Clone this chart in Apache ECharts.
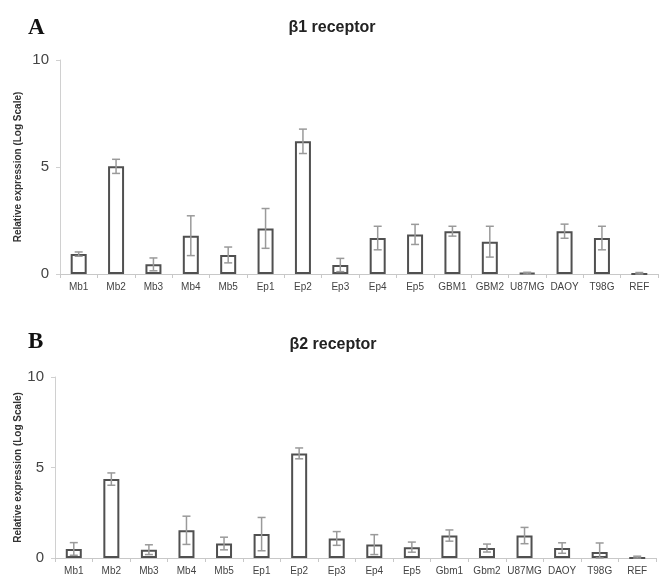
<!DOCTYPE html>
<html>
<head>
<meta charset="utf-8">
<script src="https://cdn.jsdelivr.net/npm/echarts@6/dist/echarts.min.js"></script>
<style>html,body{margin:0;padding:0;background:#fff;}#c{width:660px;height:576px;}</style>
</head>
<body>
<div id="c"></div>
<script>
const catsA = ['Mb1','Mb2','Mb3','Mb4','Mb5','Ep1','Ep2','Ep3','Ep4','Ep5','GBM1','GBM2','U87MG','DAOY','T98G','REF'];
const valsA = [0.93, 5.03, 0.45, 1.79, 0.89, 2.13, 6.2, 0.42, 1.68, 1.85, 2.0, 1.51, 0.04, 2.0, 1.68, 0];
const errA  = [0.1, 0.33, 0.3, 0.93, 0.37, 0.93, 0.57, 0.31, 0.55, 0.47, 0.23, 0.72, 0.04, 0.33, 0.55, 0.07];

const catsB = ['Mb1','Mb2','Mb3','Mb4','Mb5','Ep1','Ep2','Ep3','Ep4','Ep5','Gbm1','Gbm2','U87MG','DAOY','T98G','REF'];
const valsB = [0.5, 4.36, 0.46, 1.53, 0.8, 1.32, 5.78, 1.08, 0.74, 0.6, 1.24, 0.55, 1.24, 0.55, 0.33, 0];
const errB  = [0.35, 0.34, 0.27, 0.78, 0.35, 0.92, 0.3, 0.38, 0.55, 0.28, 0.31, 0.22, 0.45, 0.29, 0.5, 0.1];

const yTicks = [0, 5, 10];

function errData(vals, errs) {
  return vals.map((v, i) => [i, Math.max(0, v - errs[i]), v + errs[i]]);
}

function renderErr(params, api) {
  const x = api.value(0);
  const lo = api.coord([x, api.value(1)]);
  const hi = api.coord([x, api.value(2)]);
  const hw = 4;
  const style = { stroke: '#9a9a9a', lineWidth: 1.5, fill: null };
  return {
    type: 'group',
    children: [
      { type: 'line', shape: { x1: hi[0], y1: hi[1], x2: lo[0], y2: lo[1] }, style: style },
      { type: 'line', shape: { x1: hi[0] - hw, y1: hi[1], x2: hi[0] + hw, y2: hi[1] }, style: style },
      { type: 'line', shape: { x1: lo[0] - hw, y1: lo[1], x2: lo[0] + hw, y2: lo[1] }, style: style }
    ]
  };
}

const font = '"Liberation Sans", Arial, sans-serif';
const serif = '"Liberation Serif", "Times New Roman", serif';

function xAxis(cats, idx) {
  return {
    type: 'category', gridIndex: idx, data: cats,
    axisLine: { lineStyle: { color: '#c8c8c8', width: 1 } },
    axisTick: { show: true, length: 4, lineStyle: { color: '#c8c8c8' } },
    axisLabel: { color: '#444', fontSize: 10, fontFamily: font, margin: 8, interval: 0 }
  };
}
function yAxis(idx, gap) {
  return {
    type: 'value', gridIndex: idx, min: yTicks[0], max: yTicks[yTicks.length - 1], interval: yTicks[1] - yTicks[0],
    name: 'Relative expression (Log Scale)', nameLocation: 'middle', nameGap: gap, nameMoveOverlap: false,
    nameTextStyle: { color: '#333', fontSize: 10, fontWeight: 'bold', fontFamily: font },
    axisLine: { show: true, lineStyle: { color: '#d0d0d0', width: 1 } },
    axisTick: { show: true, length: 4, lineStyle: { color: '#d0d0d0' } },
    splitLine: { show: false },
    axisLabel: { color: '#444', fontSize: 15, fontFamily: font, margin: 11 }
  };
}

const chart = echarts.init(document.getElementById('c'));
chart.setOption({
  backgroundColor: '#fff',
  animation: false,
  title: [
    { text: 'A', left: 23, top: 12, textStyle: { fontFamily: serif, fontWeight: 'bold', fontSize: 23, color: '#111' } },
    { text: 'β1 receptor', left: 327, top: 15, textAlign: 'center', textStyle: { fontFamily: font, fontWeight: 'bold', fontSize: 16, color: '#222' } },
    { text: 'B', left: 23, top: 326, textStyle: { fontFamily: serif, fontWeight: 'bold', fontSize: 23, color: '#111' } },
    { text: 'β2 receptor', left: 328, top: 332, textAlign: 'center', textStyle: { fontFamily: font, fontWeight: 'bold', fontSize: 16, color: '#222' } }
  ],
  grid: [
    { left: 60, right: 2, top: 60, height: 214 },
    { left: 55, right: 4, top: 377, height: 182 }
  ],
  xAxis: [xAxis(catsA, 0), xAxis(catsB, 1)],
  yAxis: [yAxis(0, 37), yAxis(1, 32)],
  series: [
    { type: 'bar', xAxisIndex: 0, yAxisIndex: 0, data: valsA, barWidth: 16,
      itemStyle: { color: '#fff', borderColor: '#505050', borderWidth: 2 } },
    { type: 'custom', xAxisIndex: 0, yAxisIndex: 0, data: errData(valsA, errA), renderItem: renderErr, z: 5,
      encode: { x: 0, y: [1, 2] } },
    { type: 'bar', xAxisIndex: 1, yAxisIndex: 1, data: valsB, barWidth: 16,
      itemStyle: { color: '#fff', borderColor: '#505050', borderWidth: 2 } },
    { type: 'custom', xAxisIndex: 1, yAxisIndex: 1, data: errData(valsB, errB), renderItem: renderErr, z: 5,
      encode: { x: 0, y: [1, 2] } }
  ]
});
</script>
</body>
</html>
